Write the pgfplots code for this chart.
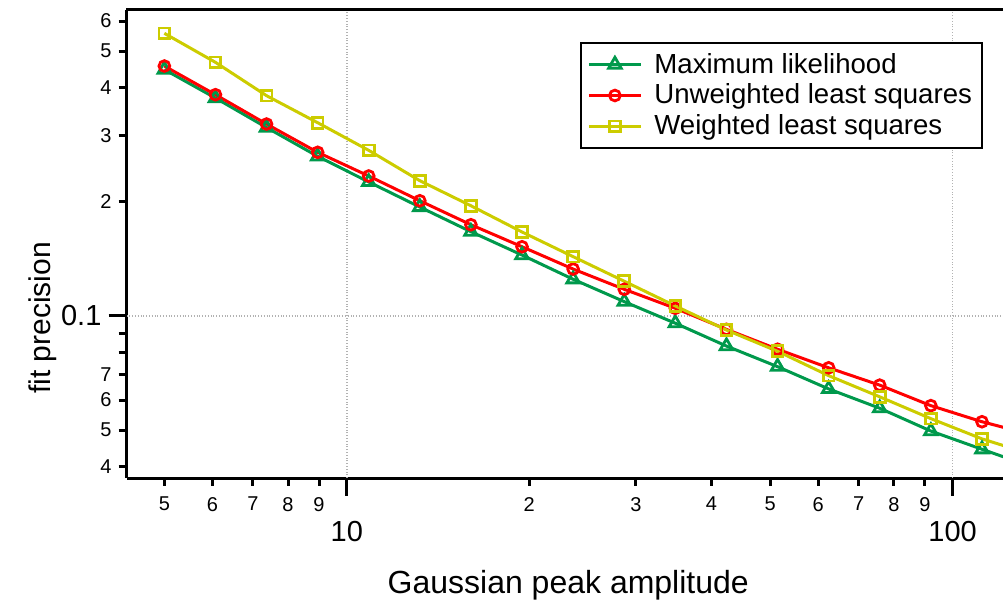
\documentclass[border=0pt]{standalone}
\usepackage{fontspec}
\setmainfont{Liberation Sans}
\usepackage{pgfplots}
\pgfplotsset{compat=1.18}
\usepackage{pgfplotstable}
\usetikzlibrary{calc}

\definecolor{mlgreen}{RGB}{0,153,76}
\definecolor{ulsred}{RGB}{255,0,0}
\definecolor{wlsyellow}{RGB}{204,204,0}

% amplitude, maximum likelihood, unweighted LS, weighted LS
\pgfplotstableread{
x      ml      uls     wls
5.000  0.4470  0.4566  0.557
6.072  0.3760  0.3837  0.467
7.373  0.3143  0.3210  0.3814
8.954  0.2638  0.2703  0.3236
10.87  0.2258  0.2341  0.2736
13.20  0.1939  0.2014  0.2275
16.03  0.1669  0.1741  0.1954
19.47  0.1448  0.1523  0.1666
23.64  0.1250  0.1330  0.1434
28.71  0.1091  0.1176  0.1235
34.86  0.0957  0.1048  0.1063
42.34  0.0833  0.0922  0.0918
51.41  0.0735  0.0817  0.0807
62.43  0.0642  0.0730  0.0696
75.81  0.0571  0.0657  0.0612
92.06  0.0497  0.0580  0.0536
111.8  0.0445  0.0526  0.0474
135.8  0.0399  0.0485  0.0430
}\prec

\begin{document}
\begin{tikzpicture}
\begin{loglogaxis}[
  scale only axis, width=438.25pt, height=234pt,
  xmin=4.33, xmax=121.1, ymin=0.03737, ymax=0.6418,
  axis x line*=bottom, axis y line*=left,
  axis line style={line width=1.5pt},
  tick align=outside, tick style={line width=1.5pt, black},
  major tick length=4pt, minor tick length=0pt,
  xtick={5,6,7,8,9,20,30,40,50,60,70,80,90},
  xticklabels={5,6,7,8,9,2,3,4,5,6,7,8,9},
  ytick={0.04,0.05,0.06,0.07,0.08,0.09,0.2,0.3,0.4,0.5,0.6},
  yticklabels={4,5,6,7,,,2,3,4,5,6},
  tick label style={font=\fontsize{10}{12}\selectfont},
  xticklabel style={yshift=-2pt},
  extra x ticks={10,100}, extra x tick labels={10,100},
  extra y ticks={0.1}, extra y tick labels={0.1},
  extra tick style={major tick length=9pt, grid=major,
    major grid style={densely dotted, gray!60, line width=0.8pt},
    tick label style={font=\fontsize{14.5}{16}\selectfont}},
  extra x tick style={xticklabel style={yshift=-7pt}},
  xlabel={Gaussian peak amplitude},
  ylabel={fit precision},
  xlabel style={font=\fontsize{16}{18}\selectfont, at={(axis description cs:0.504,0)}, anchor=base, yshift=-57.5pt},
  ylabel style={font=\fontsize{15}{18}\selectfont, at={(axis description cs:0,0.342)}, anchor=base, yshift=38pt},
  legend style={at={(axis description cs:1,1)}, anchor=north east,
    xshift=-10pt, yshift=-16pt, draw=black, line width=1pt,
    font=\fontsize{13.8}{15}\selectfont, inner xsep=3pt, inner ysep=3pt,
    row sep=0pt, /tikz/every odd column/.append style={column sep=4pt}},
  legend cell align=left,
  legend image code/.code={\draw[mark repeat=2,mark phase=2]
    plot coordinates {(0pt,0pt) (13pt,0pt) (26pt,0pt)};},
  every axis plot/.append style={line width=1.5pt},
]
\addplot[mlgreen, mark=triangle, mark size=3.6pt, mark options={solid, line width=1.4pt}] table[x=x, y=ml] {\prec};
\addlegendentry{Maximum likelihood}
\addplot[ulsred, mark=o, mark size=2.7pt, mark options={solid, line width=1.4pt}] table[x=x, y=uls] {\prec};
\addlegendentry{Unweighted least squares}
\addplot[wlsyellow, mark=square, mark size=2.7pt, mark options={solid, line width=1.4pt}] table[x=x, y=wls] {\prec};
\addlegendentry{Weighted least squares}
\end{loglogaxis}
\draw[line width=1.5pt] (current axis.north west) -- (current axis.north east);
\pgfresetboundingbox
\path[use as bounding box] ($(current axis.south west)+(-63.25pt,-61.5pt)$) rectangle ($(current axis.north east)+(0pt,5pt)$);
\end{tikzpicture}
\end{document}
